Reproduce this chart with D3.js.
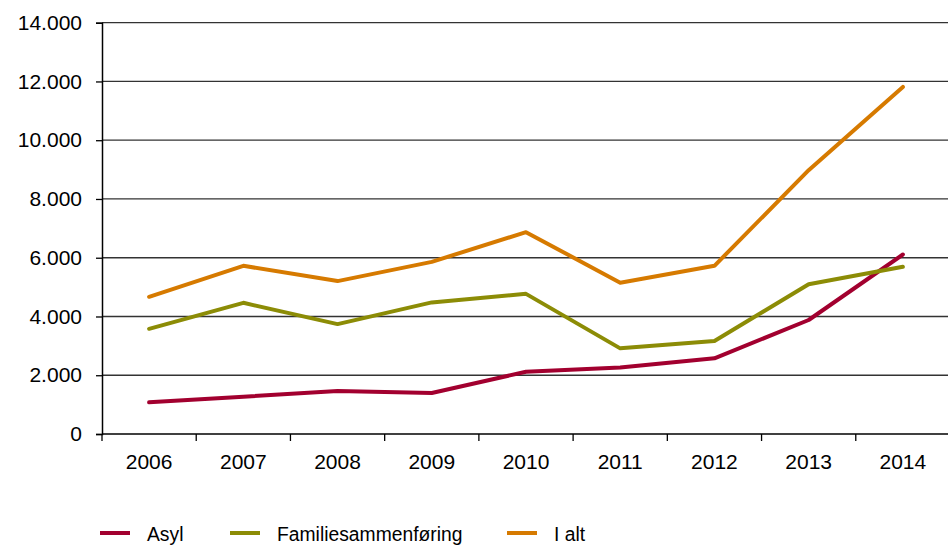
<!DOCTYPE html>
<html>
<head>
<meta charset="utf-8">
<script src="https://cdn.jsdelivr.net/npm/d3@7"></script>
<style>
  body { margin: 0; background: #fff; }
  svg { display: block; font-family: "Liberation Sans", Arial, sans-serif; }
</style>
</head>
<body>
<svg id="chart" width="948" height="545"></svg>
<script>
// data
var years = ["2006", "2007", "2008", "2009", "2010", "2011", "2012", "2013", "2014"];
var asyl = [1080, 1270, 1460, 1395, 2120, 2260, 2575, 3880, 6110];
var familie = [3580, 4465, 3740, 4480, 4770, 2915, 3165, 5100, 5690];
var iAlt = [4670, 5725, 5205, 5860, 6870, 5150, 5725, 8980, 11815];
var yTicks = [0, 2000, 4000, 6000, 8000, 10000, 12000, 14000];

var series = [
  { name: "Asyl", values: asyl, color: "#A2002F" },
  { name: "Familiesammenføring", values: familie, color: "#8C8C06" },
  { name: "I alt", values: iAlt, color: "#D67A00" }
];

var plotLeft = 102, plotRight = 950, plotTop = 22.7, plotBottom = 434;

var svg = d3.select("#chart");

var x = d3.scaleBand().domain(years).range([plotLeft, plotRight]).padding(0);
var y = d3.scaleLinear().domain([0, 14000]).range([plotBottom, plotTop]);

var locale = d3.formatLocale({ decimal: ",", thousands: ".", grouping: [3], currency: ["", ""] });
var fmt = locale.format(",d");

// gridlines
svg.append("g")
  .selectAll("line")
  .data(yTicks.filter(function(d) { return d > 0; }))
  .enter().append("line")
  .attr("x1", plotLeft).attr("x2", 948)
  .attr("y1", function(d) { return y(d); })
  .attr("y2", function(d) { return y(d); })
  .attr("stroke", "#333")
  .attr("stroke-width", 1.3);

// y axis
var yAxis = svg.append("g")
  .attr("transform", "translate(" + plotLeft + ",0)")
  .call(d3.axisLeft(y).tickValues(yTicks).tickSize(6).tickPadding(14).tickFormat(fmt));
yAxis.select(".domain").attr("stroke", "#000").attr("stroke-width", 1.5);
yAxis.selectAll(".tick line").attr("stroke", "#000").attr("stroke-width", 1.3);
yAxis.selectAll("text")
  .attr("font-size", 21)
  .attr("font-family", "Liberation Sans, Arial, sans-serif")
  .attr("fill", "#000");

// x axis: line, boundary ticks, centred labels
var xg = svg.append("g");
xg.append("line")
  .attr("x1", plotLeft).attr("x2", 948)
  .attr("y1", plotBottom).attr("y2", plotBottom)
  .attr("stroke", "#000").attr("stroke-width", 1.5);
xg.selectAll(".xt")
  .data(years)
  .enter().append("line")
  .attr("class", "xt")
  .attr("x1", function(d) { return x(d); })
  .attr("x2", function(d) { return x(d); })
  .attr("y1", plotBottom).attr("y2", plotBottom + 7)
  .attr("stroke", "#000").attr("stroke-width", 1.3);
xg.selectAll(".xl")
  .data(years)
  .enter().append("text")
  .attr("class", "xl")
  .attr("x", function(d) { return x(d) + x.bandwidth() / 2; })
  .attr("y", 468.5)
  .attr("text-anchor", "middle")
  .attr("font-size", 21)
  .attr("fill", "#000")
  .text(function(d) { return d; });

// lines
var line = d3.line()
  .x(function(d, i) { return x(years[i]) + x.bandwidth() / 2; })
  .y(function(d) { return y(d); });

svg.append("g")
  .selectAll("path")
  .data(series)
  .enter().append("path")
  .attr("d", function(s) { return line(s.values); })
  .attr("fill", "none")
  .attr("stroke", function(s) { return s.color; })
  .attr("stroke-width", 4)
  .attr("stroke-linejoin", "round")
  .attr("stroke-linecap", "round");

// legend
var legendX = [100, 230, 507];
var legend = svg.append("g")
  .selectAll("g")
  .data(series)
  .enter().append("g")
  .attr("transform", function(s, i) { return "translate(" + legendX[i] + ",533)"; });
legend.append("line")
  .attr("x1", 0).attr("x2", 30)
  .attr("stroke", function(s) { return s.color; })
  .attr("stroke-width", 4);
legend.append("text")
  .attr("x", 47)
  .attr("y", 8)
  .attr("font-size", 21)
  .attr("transform", "scale(0.92,1)")
  .attr("transform-origin", "47 0")
  .attr("fill", "#000")
  .text(function(s) { return s.name; });
</script>
</body>
</html>
